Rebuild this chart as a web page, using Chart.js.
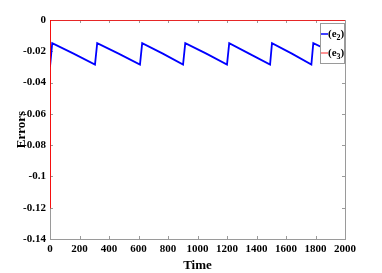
<!DOCTYPE html>
<html>
<head>
<meta charset="utf-8">
<script src="https://cdn.jsdelivr.net/npm/chart.js@4.4.0/dist/chart.umd.min.js"></script>
<style>
  body { margin: 0; background: #fff; }
  #wrap { width: 382px; height: 273px; }
</style>
</head>
<body>
<div id="wrap"><canvas id="chart" width="382" height="273"></canvas></div>
<script>
// values
var time_e2 = [0, 15, 160, 305, 320, 465, 610, 625, 765, 902, 917, 1060, 1200, 1215, 1350, 1492, 1505, 1640, 1772, 1785, 1900, 2000];
var e2 = [-0.030, -0.0148, -0.0215, -0.0285, -0.0148, -0.0215, -0.0285, -0.0148, -0.0215, -0.0285, -0.0148, -0.0215, -0.0285, -0.0148, -0.0215, -0.0285, -0.0148, -0.0215, -0.0285, -0.0148, -0.020, -0.0235];
var time_e3 = [0, 1, 2000];
var e3 = [-0.12, 0, 0];
var xTicks = [0, 200, 400, 600, 800, 1000, 1200, 1400, 1600, 1800, 2000];
var yTicks = [0, -0.02, -0.04, -0.06, -0.08, -0.1, -0.12, -0.14];
var legendNames = [['e', '2'], ['e', '3']];

function pts(xs, ys) {
  var out = [];
  for (var i = 0; i < xs.length; i++) out.push({x: xs[i], y: ys[i]});
  return out;
}

var font = 'Liberation Serif';

// matlab style box + inward ticks
var boxPlugin = {
  id: 'box',
  beforeDatasetsDraw: function(chart) {
    var c = chart.ctx, a = chart.chartArea;
    var xs = chart.scales.x, ys = chart.scales.y;
    c.save();
    c.strokeStyle = '#9a9a9a';
    c.lineWidth = 1;
    c.beginPath();
    c.moveTo(a.left, Math.round(a.top) + 0.5); c.lineTo(a.right, Math.round(a.top) + 0.5);
    c.moveTo(Math.round(a.right) + 0.5, a.top); c.lineTo(Math.round(a.right) + 0.5, a.bottom);
    xTicks.forEach(function(t) {
      var p = Math.round(xs.getPixelForValue(t)) + 0.5;
      c.moveTo(p, a.bottom); c.lineTo(p, a.bottom - 3);
      c.moveTo(p, a.top); c.lineTo(p, a.top + 3);
    });
    yTicks.forEach(function(t) {
      var p = Math.round(ys.getPixelForValue(t)) + 0.5;
      c.moveTo(a.left, p); c.lineTo(a.left + 3, p);
      c.moveTo(a.right, p); c.lineTo(a.right - 3, p);
    });
    c.stroke();
    c.restore();
  }
};

// legend with subscripts
var legendPlugin = {
  id: 'legendBox',
  afterDraw: function(chart) {
    var c = chart.ctx, a = chart.chartArea;
    var x0 = a.right - 25, y0 = a.top + 3, w = 24, h = 40;
    c.save();
    c.fillStyle = '#fff';
    c.fillRect(x0, y0, w, h);
    c.strokeStyle = '#9a9a9a';
    c.lineWidth = 1;
    c.strokeRect(x0 + 0.5, y0 + 0.5, w, h);
    var cols = ['#0000ff', '#ff6f6f'];
    for (var i = 0; i < 2; i++) {
      var yy = y0 + 11 + i * 19;
      c.strokeStyle = cols[i];
      c.lineWidth = 1.5;
      c.beginPath(); c.moveTo(x0 + 1, yy); c.lineTo(x0 + 8, yy); c.stroke();
      c.fillStyle = '#000';
      c.textBaseline = 'middle';
      c.font = 'bold 11px "' + font + '"';
      var tx = x0 + 8;
      c.fillText('(' + legendNames[i][0], tx, yy);
      tx += c.measureText('(' + legendNames[i][0]).width;
      c.font = 'bold 8px "' + font + '"';
      c.fillText(legendNames[i][1], tx, yy + 4);
      tx += c.measureText(legendNames[i][1]).width;
      c.font = 'bold 11px "' + font + '"';
      c.fillText(')', tx, yy);
    }
    c.restore();
  }
};

var ctx = document.getElementById('chart');
var chart = new Chart(ctx, {
  type: 'line',
  data: {
    datasets: [
      {
        label: 'e2',
        data: pts(time_e2, e2),
        borderColor: '#0000ff',
        borderWidth: 1.8,
        pointRadius: 0,
        tension: 0,
        order: 2
      },
      {
        label: 'e3',
        data: pts(time_e3, e3),
        borderColor: '#ff0000',
        borderWidth: 1.5,
        pointRadius: 0,
        tension: 0,
        order: 1
      }
    ]
  },
  options: {
    responsive: false,
    animation: false,
    layout: { padding: { top: 20, right: 37, left: 0, bottom: 0 } },
    plugins: { legend: { display: false }, tooltip: { enabled: false } },
    scales: {
      x: {
        type: 'linear',
        min: 0, max: 2000,
        afterBuildTicks: function(s) { s.ticks = xTicks.map(function(v) { return {value: v}; }); },
        afterFit: function(s) { s.height = 34; },
        grid: { drawOnChartArea: false, drawTicks: false },
        border: { display: true, color: '#9a9a9a' },
        ticks: {
          padding: 4, color: '#000', maxRotation: 0,
          font: { family: font, weight: 'bold', size: 11 },
          callback: function(v) { return String(v); }
        },
        title: {
          display: true, text: 'Time', color: '#000', padding: 0,
          font: { family: font, weight: 'bold', size: 13 }
        }
      },
      y: {
        type: 'linear',
        min: -0.14, max: 0,
        afterBuildTicks: function(s) { s.ticks = yTicks.map(function(v) { return {value: v}; }); },
        afterFit: function(s) { s.width = 50; },
        grid: { drawOnChartArea: false, drawTicks: false },
        border: { display: true, color: '#9a9a9a' },
        ticks: {
          padding: 4, color: '#000',
          font: { family: font, weight: 'bold', size: 11 },
          callback: function(v) { return String(+v.toFixed(2)); }
        },
        title: {
          display: true, text: 'Errors', color: '#000', padding: { top: 14, bottom: 0 },
          font: { family: font, weight: 'bold', size: 13 }
        }
      }
    }
  },
  plugins: [boxPlugin, legendPlugin]
});
</script>
</body>
</html>
